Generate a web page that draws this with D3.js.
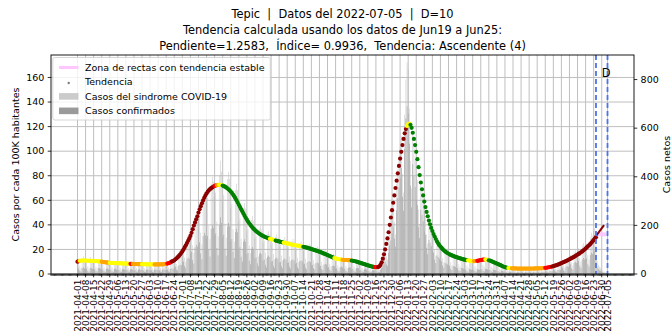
<!DOCTYPE html>
<html><head><meta charset="utf-8">
<script src="https://cdn.jsdelivr.net/npm/d3@7"></script>
<style>
body{margin:0;background:#fff}
svg{display:block}
text{font-family:"DejaVu Sans",sans-serif;fill:#000;white-space:pre}
</style>
</head><body><div id="chart"></div>
<script>
// ---------------- DATA ----------------
const titleLines = [
  "Tepic  |  Datos del 2022-07-05  |  D=10",
  "Tendencia calculada usando los datos de Jun19 a Jun25:",
  "Pendiente=1.2583,  Índice= 0.9936,  Tendencia: Ascendente (4)"
];
const yLabelLeft = "Casos por cada 100K habitantes";
const yLabelRight = "Casos netos";
const xDomain = ["2021-03-09", "2022-07-28"];
const startDay = "2021-04-01";   // first daily value

// daily "Casos del sindrome COVID-19" (net cases, right axis)
const syndromeCases = [
50,52,33,24,58,72,55, 48,54,31,22,70,57,50, 47,49,30,23,56,60,52, 44,45,28,20,52,55,47,
41,43,27,19,49,52,45, 39,41,25,18,47,50,43, 38,40,24,18,45,48,42, 37,39,24,17,44,47,40,
36,37,23,17,43,46,39, 35,38,23,16,42,45,40, 36,37,24,17,43,46,41, 40,43,27,20,50,54,50,
60,66,41,31,78,84,79, 98,108,68,50,128,138,130, 170,185,118,87,220,240,226, 245,262,170,122,312,338,318,
292,315,200,145,372,400,380, 318,335,215,155,405,466,420, 305,325,208,150,390,420,392, 272,288,184,132,345,372,345,
215,228,145,104,272,292,270, 176,186,118,86,222,238,220, 147,156,99,72,186,198,183, 130,138,88,64,165,176,163,
121,128,82,60,153,163,151, 113,120,76,56,142,152,141, 107,113,72,53,135,144,133, 100,106,67,49,126,134,124,
94,99,63,46,118,126,117, 85,90,57,42,107,114,105, 75,79,50,37,94,100,93, 62,66,42,31,78,84,77,
53,56,36,26,67,71,66, 50,53,34,25,63,67,62, 45,48,30,22,57,60,56, 37,39,25,18,46,49,45,
28,29,19,14,35,37,34, 24,26,19,17,38,52,64, 78,95,72,60,155,198,224, 258,292,215,163,370,430,482,
520,568,412,335,655,800,870, 840,680,465,352,585,525,472, 412,386,266,206,370,344,310, 258,240,163,125,215,198,180,
160,146,99,76,129,120,110, 102,95,65,49,86,82,74, 76,73,48,36,73,71,66, 60,62,40,30,62,60,56,
52,53,34,26,55,54,50, 50,52,33,25,53,54,52, 55,57,36,28,58,60,55, 48,47,30,23,50,49,45,
35,34,22,17,36,34,32, 25,24,15,12,25,24,22, 20,19,12,9,21,20,18, 19,20,12,9,20,21,19,
20,21,13,10,22,21,20, 22,21,14,11,23,24,22, 27,28,17,13,28,29,28, 34,36,22,17,38,40,37,
52,56,35,26,62,66,60, 72,78,48,36,90,98,88, 98,106,66,50,118,128,116, 118,125,78,60,150,170,158,
178,188,120,52,38,30,26, 20,15,10,7,4,3
];

// daily "Casos confirmados" (net cases, right axis)
const confirmedCases = [
21,22,14,10,24,27,23, 20,23,13,9,26,24,21, 20,21,13,10,24,25,22, 18,19,12,8,22,23,20,
17,18,11,8,21,22,19, 16,17,10,7,20,21,18, 16,17,10,7,19,20,18, 15,16,10,7,18,20,17,
15,15,9,7,18,19,16, 14,16,9,6,18,19,17, 15,15,10,7,18,19,17, 17,18,11,8,21,23,21,
27,30,18,14,35,38,36, 47,52,33,24,62,67,63, 84,92,58,43,110,120,113, 122,131,85,61,156,169,159,
146,157,100,72,186,200,190, 159,167,107,77,202,233,210, 152,162,104,75,195,210,196, 136,144,92,66,172,186,172,
105,112,71,51,133,143,132, 82,87,55,40,104,111,103, 65,69,44,32,82,87,81, 56,59,38,27,71,76,70,
51,54,34,25,64,68,63, 47,50,32,23,60,64,59, 45,47,30,22,57,60,56, 42,45,28,21,53,56,52,
39,42,26,19,50,53,49, 36,38,24,18,45,48,44, 32,33,21,16,39,42,39, 26,28,18,13,33,35,32,
22,24,15,11,28,30,28, 21,22,14,10,26,28,26, 19,20,13,9,24,25,24, 15,16,10,8,19,21,19,
12,12,8,6,15,16,14, 10,11,8,7,17,24,31, 40,50,39,33,88,118,138, 168,195,146,112,262,312,356,
395,436,318,260,515,640,690, 660,536,364,274,452,402,358, 305,283,193,148,264,243,217, 175,161,108,82,140,128,115,
98,88,59,45,76,70,63, 56,52,35,26,46,43,39, 36,34,22,16,33,32,29, 24,25,16,12,25,24,22,
19,19,12,9,20,19,18, 18,18,12,9,19,19,18, 19,20,13,10,20,21,19, 17,16,10,8,17,17,16,
12,12,8,6,13,12,11, 9,8,5,4,9,8,8, 7,7,4,3,7,7,6, 7,7,4,3,7,7,7,
7,7,5,4,8,7,7, 8,7,5,4,8,8,8, 10,10,6,5,11,11,11, 15,16,10,8,17,18,17,
24,26,16,12,30,32,29, 36,40,24,18,46,50,45, 50,54,34,25,60,66,60, 61,65,40,31,78,88,82,
92,97,62,27,19,15,13, 10,8,5,3,2,1
];

// daily trend value (cases per 100K, left axis), 2021-04-01 .. 2022-06-25
const trendValues = [
10.0,10.4,10.7,10.9,11.0,11.0,11.0,10.9,10.9,10.8,
10.8,10.8,10.7,10.7,10.6,10.6,10.5,10.4,10.3,10.2,
10.1,10.0,9.8,9.7,9.5,9.4,9.3,9.2,9.1,9.0,
9.0,8.9,8.9,8.9,8.8,8.8,8.8,8.7,8.7,8.6,
8.6,8.5,8.5,8.4,8.4,8.3,8.3,8.2,8.2,8.1,
8.1,8.1,8.0,8.0,8.0,8.0,8.0,8.0,8.0,7.9,
7.9,7.9,7.9,7.9,7.8,7.8,7.8,7.8,7.8,7.8,
7.8,7.8,7.8,7.9,7.9,8.0,8.1,8.3,8.5,8.8,
9.1,9.6,10.2,10.6,11.2,12.0,12.8,13.7,14.7,15.8,
17.0,18.4,19.9,21.6,23.4,25.2,27.0,29.0,31.0,33.5,
36.5,39.5,42.0,44.5,47.0,50.0,52.7,55.2,57.6,59.9,
62.0,63.9,65.5,66.9,68.1,69.1,69.9,70.6,71.2,71.7,
72.1,72.4,72.6,72.6,72.5,72.3,72.0,71.6,71.1,70.5,
69.8,69.0,68.1,67.1,66.0,64.7,63.3,61.7,60.0,58.2,
56.4,54.6,52.8,51.0,49.2,47.5,45.8,44.2,42.7,41.3,
40.0,38.8,37.7,36.7,35.8,34.9,34.1,33.4,32.7,32.1,
31.5,31.0,30.5,30.1,29.7,29.3,29.0,28.7,28.4,28.1,
27.8,27.5,27.2,27.0,26.7,26.5,26.2,26.0,25.8,25.6,
25.4,25.1,24.9,24.7,24.5,24.2,24.0,23.8,23.6,23.4,
23.2,23.1,22.9,22.7,22.5,22.3,22.1,21.9,21.7,21.5,
21.2,20.9,20.6,20.3,20.0,19.7,19.4,19.1,18.8,18.5,
18.2,17.8,17.4,17.0,16.6,16.2,15.8,15.4,15.0,14.6,
14.2,13.8,13.4,13.0,12.7,12.4,12.2,12.0,11.8,11.7,
11.6,11.5,11.4,11.4,11.3,11.3,11.2,11.1,11.0,10.8,
10.6,10.4,10.1,9.8,9.5,9.2,8.9,8.6,8.3,8.0,
7.7,7.4,7.1,6.8,6.5,6.2,6.0,5.8,5.6,5.5,
5.5,5.6,6.3,7.5,9.5,12.5,16.0,20.0,24.5,29.0,
34.0,40.0,46.0,52.0,58.0,64.0,70.0,76.0,82.0,88.0,
94.0,99.5,105.0,110.0,114.5,118.0,120.5,122.0,122.5,121.5,
119.0,115.0,110.0,105.0,99.5,93.5,87.0,80.5,74.5,69.0,
64.0,59.0,54.5,50.5,47.0,43.5,40.5,37.5,35.0,32.5,
30.5,28.5,26.5,25.0,23.5,22.3,21.2,20.2,19.3,18.5,
17.8,17.1,16.5,16.0,15.5,15.1,14.7,14.3,14.0,13.7,
13.4,13.1,12.8,12.5,12.2,11.9,11.7,11.5,11.3,11.1,
10.9,10.7,10.6,10.5,10.5,10.5,10.6,10.7,10.9,11.1,
11.3,11.5,11.7,11.8,11.8,11.7,11.5,11.2,10.9,10.5,
10.1,9.7,9.3,8.9,8.5,8.1,7.7,7.2,6.8,6.3,
5.9,5.6,5.3,5.1,4.9,4.8,4.7,4.6,4.5,4.5,
4.5,4.4,4.4,4.4,4.4,4.4,4.4,4.4,4.4,4.4,
4.4,4.4,4.4,4.4,4.4,4.4,4.4,4.5,4.5,4.5,
4.5,4.6,4.6,4.7,4.8,4.9,5.0,5.1,5.3,5.5,
5.7,5.9,6.1,6.4,6.7,7.0,7.3,7.7,8.1,8.5,
8.9,9.3,9.7,10.1,10.5,11.0,11.5,12.0,12.5,13.0,
13.5,14.0,14.6,15.2,15.8,16.4,17.0,17.7,18.4,19.1,
19.9,20.7,21.6,22.5,23.4,24.4,25.4,26.5,27.6,28.8,
30.0
];

// trend category runs: [first day index, end index (exclusive), category]
// 4 ascendente, 3 ligeramente ascendente, 2 estable-asc, 1 estable, 0 descendente
const trendRuns = [
[0,1,4],[1,2,3],[2,21,1],[21,28,2],[28,46,1],[46,48,3],[48,56,2],[56,67,1],[67,78,2],[78,82,3],
[82,119,4],[119,121,3],[121,123,2],[123,126,1],[126,167,0],[167,172,1],[172,179,0],[179,196,1],
[196,223,0],[223,230,1],[230,238,2],[238,258,0],[258,261,3],[261,286,4],[286,289,1],[289,339,0],
[339,344,1],[344,347,2],[347,354,3],[354,357,1],[357,374,0],[374,377,1],[377,406,2],[406,412,3],[412,451,4]
];
const trendColors = {4:"#8b0000", 3:"#ff0000", 2:"#ffa500", 1:"#ffff00", 0:"#008000"};

const fitLine = {start:"2022-06-19", end:"2022-07-02", startValue:23.4, slope:1.2583};
const stableZone = {start:"2022-06-25", end:"2022-07-04", value:32.3};
const markerDates = ["2022-06-25", "2022-07-05"];
const markerText = {date:"2022-06-30", text:"D"};

const tickLabels = [
"2021-04-01","2021-04-08","2021-04-15","2021-04-22","2021-04-29","2021-05-06","2021-05-13","2021-05-20","2021-05-27",
"2021-06-03","2021-06-10","2021-06-17","2021-06-24","2021-07-01","2021-07-08","2021-07-15","2021-07-22","2021-07-29",
"2021-08-05","2021-08-12","2021-08-19","2021-08-26","2021-09-02","2021-09-09","2021-09-16","2021-09-23","2021-09-30",
"2021-10-07","2021-10-14","2021-10-21","2021-10-28","2021-11-04","2021-11-11","2021-11-18","2021-11-25","2021-12-02",
"2021-12-09","2021-12-16","2021-12-23","2021-12-30","2022-01-06","2022-01-13","2022-01-20","2022-01-27","2022-02-03",
"2022-02-10","2022-02-17","2022-02-24","2022-03-03","2022-03-10","2022-03-17","2022-03-24","2022-03-31","2022-04-07",
"2022-04-14","2022-04-21","2022-04-28","2022-05-05","2022-05-12","2022-05-19","2022-05-26","2022-06-02","2022-06-09",
"2022-06-16","2022-06-23","2022-06-30","2022-07-05"
];
const leftTicks = [0,20,40,60,80,100,120,140,160];
const rightTicks = [0,200,400,600,800];
const leftMax = 178.3, rightMax = 901;

const legendItems = [
  {type:"line", label:"Zona de rectas con tendencia estable", color:"#ffc6ff"},
  {type:"dot", label:"Tendencia", color:"#7f7f7f"},
  {type:"patch", label:"Casos del sindrome COVID-19", color:"#cbcbcb"},
  {type:"patch", label:"Casos confirmados", color:"#9a9a9a"}
];

// ---------------- DRAW ----------------
const W = 672, H = 334;
const L = 51, R = 634, T = 55, B = 274;
const svg = d3.select("#chart").append("svg").attr("width", W).attr("height", H);
const parse = d3.utcParse("%Y-%m-%d");
const day0 = parse(startDay);
const dateAt = i => d3.utcDay.offset(day0, i);

const x = d3.scaleUtc().domain(xDomain.map(parse)).range([L, R]);
const yL = d3.scaleLinear().domain([0, leftMax]).range([B, T]);
const yR = d3.scaleLinear().domain([0, rightMax]).range([B, T]);

// bars
const BW = 0.55;
const gBars = svg.append("g");
gBars.selectAll("rect.s").data(syndromeCases).join("rect").attr("class","s")
  .attr("x", (v,i) => x(dateAt(i)) - BW / 2).attr("width", BW)
  .attr("y", v => yR(v)).attr("height", v => B - yR(v)).attr("fill", "#c8c8c8");
gBars.selectAll("rect.c").data(confirmedCases).join("rect").attr("class","c")
  .attr("x", (v,i) => x(dateAt(i)) - BW / 2).attr("width", BW)
  .attr("y", v => yR(v)).attr("height", v => B - yR(v)).attr("fill", "#999999");

// grid
const gGrid = svg.append("g").attr("stroke", "#b0b0b0").attr("stroke-width", 1).attr("opacity", 0.8);
gGrid.selectAll("line.v").data(tickLabels).join("line").attr("class","v")
  .attr("x1", d => x(parse(d))).attr("x2", d => x(parse(d))).attr("y1", T).attr("y2", B);
gGrid.selectAll("line.h").data(leftTicks).join("line").attr("class","h")
  .attr("x1", L).attr("x2", R).attr("y1", d => yL(d)).attr("y2", d => yL(d));

// trend dots
const codeOf = [];
trendRuns.forEach(([a,b,c]) => { for (let i = a; i < b; i++) codeOf[i] = c; });
svg.append("g").selectAll("circle").data(trendValues).join("circle")
  .attr("cx", (v,i) => x(dateAt(i))).attr("cy", v => yL(v)).attr("r", 2.1)
  .attr("fill", (v,i) => trendColors[codeOf[i]]);

// stable zone (pink)
svg.append("line")
  .attr("x1", x(parse(stableZone.start))).attr("x2", x(parse(stableZone.end)))
  .attr("y1", yL(stableZone.value)).attr("y2", yL(stableZone.value))
  .attr("stroke", "#ffc6ff").attr("stroke-width", 4).attr("opacity", 0.9);

// fit line
const fs = parse(fitLine.start), fe = parse(fitLine.end);
const fitEndValue = fitLine.startValue + fitLine.slope * d3.utcDay.count(fs, fe);
svg.append("line")
  .attr("x1", x(fs)).attr("x2", x(fe))
  .attr("y1", yL(fitLine.startValue)).attr("y2", yL(fitEndValue))
  .attr("stroke", "#8b0000").attr("stroke-width", 2);

// marker dashed lines
svg.append("g").selectAll("line").data(markerDates).join("line")
  .attr("x1", d => x(parse(d))).attr("x2", d => x(parse(d))).attr("y1", T).attr("y2", B)
  .attr("stroke", "#4a74e8").attr("stroke-width", 1.8).attr("stroke-dasharray", "5,3");
svg.append("text").attr("x", x(parse(markerText.date))).attr("y", 76.7)
  .attr("font-size", "11.4px").text(markerText.text);

// frame
svg.append("rect").attr("x", L).attr("y", T).attr("width", R - L).attr("height", B - T)
  .attr("fill", "none").attr("stroke", "#000").attr("stroke-width", 0.9);

// x ticks: daily minor + weekly major
const allDays = d3.utcDay.range(parse(xDomain[0]), d3.utcDay.offset(parse(xDomain[1]), 1));
svg.append("g").attr("stroke", "#000").attr("stroke-width", 0.7)
  .selectAll("line").data(allDays).join("line")
  .attr("x1", d => x(d)).attr("x2", d => x(d)).attr("y1", B).attr("y2", B + 2);
svg.append("g").attr("stroke", "#000").attr("stroke-width", 0.8)
  .selectAll("line").data(tickLabels).join("line")
  .attr("x1", d => x(parse(d))).attr("x2", d => x(parse(d))).attr("y1", B).attr("y2", B + 3.3);
svg.append("g").selectAll("text").data(tickLabels).join("text")
  .attr("transform", d => `translate(${x(parse(d))},${B + 5.5}) rotate(-90)`)
  .attr("text-anchor", "end").attr("dy", "0.35em").attr("font-size", "9px").text(d => d);

// left axis
svg.append("g").selectAll("line").data(leftTicks).join("line")
  .attr("x1", L - 3.3).attr("x2", L).attr("y1", d => yL(d)).attr("y2", d => yL(d))
  .attr("stroke", "#000").attr("stroke-width", 0.8);
svg.append("g").selectAll("text").data(leftTicks).join("text")
  .attr("x", L - 6.6).attr("y", d => yL(d)).attr("dy", "0.35em").attr("text-anchor", "end")
  .attr("font-size", "9.5px").text(d => d);
svg.append("text").attr("transform", `translate(18.5,${(T + B) / 2}) rotate(-90)`)
  .attr("text-anchor", "middle").attr("font-size", "9.5px").text(yLabelLeft);

// right axis
svg.append("g").selectAll("line").data(rightTicks).join("line")
  .attr("x1", R).attr("x2", R + 3.3).attr("y1", d => yR(d)).attr("y2", d => yR(d))
  .attr("stroke", "#000").attr("stroke-width", 0.8);
svg.append("g").selectAll("text").data(rightTicks).join("text")
  .attr("x", R + 6.6).attr("y", d => yR(d)).attr("dy", "0.35em").attr("text-anchor", "start")
  .attr("font-size", "9.5px").text(d => d);
svg.append("text").attr("transform", `translate(669.5,${(T + B) / 2}) rotate(-90)`)
  .attr("text-anchor", "middle").attr("font-size", "9.5px").text(yLabelRight);

// title
svg.append("g").selectAll("text").data(titleLines).join("text")
  .attr("x", (L + R) / 2).attr("y", (d,i) => 18 + i * 15.9)
  .attr("text-anchor", "middle").attr("font-size", "11.4px").text(d => d);

// legend
const lg = svg.append("g");
lg.append("rect").attr("x", 52.8).attr("y", 57.5).attr("width", 217.5).attr("height", 62.5).attr("rx", 2)
  .attr("fill", "#fff").attr("fill-opacity", 0.8).attr("stroke", "#cccccc").attr("stroke-width", 0.8);
const rowY = i => 67.5 + i * 14.45;
legendItems.forEach((it, i) => {
  const cy = rowY(i);
  if (it.type === "line") {
    lg.append("line").attr("x1", 59).attr("x2", 78.5).attr("y1", cy).attr("y2", cy)
      .attr("stroke", it.color).attr("stroke-width", 3);
  } else if (it.type === "dot") {
    lg.append("circle").attr("cx", 68.7).attr("cy", cy + 1).attr("r", 1.2).attr("fill", it.color);
  } else {
    lg.append("rect").attr("x", 59).attr("y", cy - 3.3).attr("width", 19.5).attr("height", 6.6).attr("fill", it.color);
  }
  lg.append("text").attr("x", 85).attr("y", cy).attr("dy", "0.35em").attr("font-size", "9.5px").text(it.label);
});
</script>
</body></html>
